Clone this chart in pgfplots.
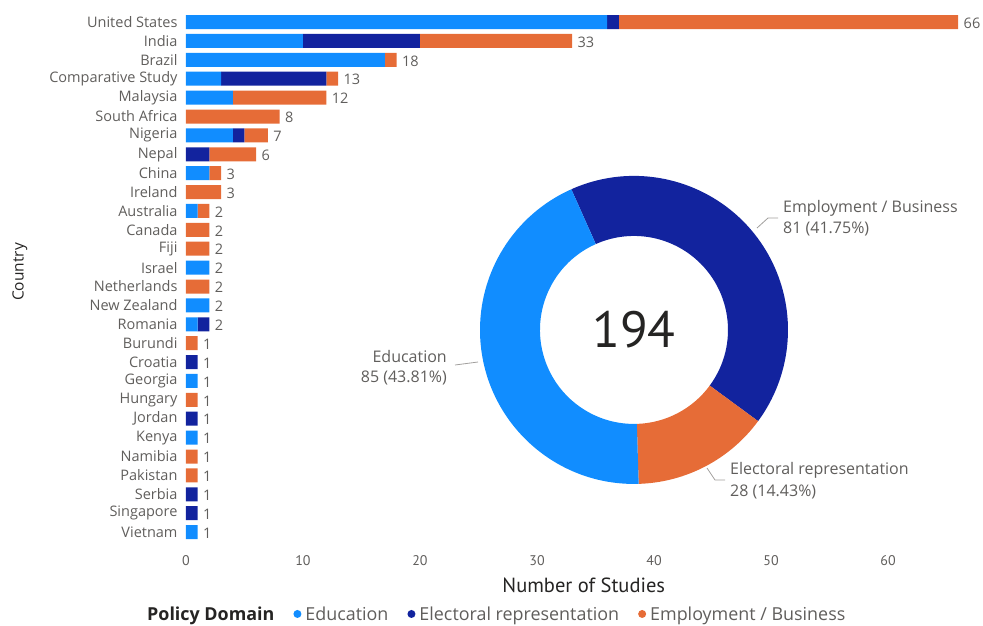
\documentclass[border=0pt]{standalone}
\usepackage{pgfplots}
\pgfplotsset{compat=1.18}
\usepackage{pgfplotstable}
\usepackage{fontspec}
\setmainfont{Open Sans}
\newfontfamily\din{PT Sans}
\definecolor{edu}{HTML}{118DFF}
\definecolor{ele}{HTML}{12239E}
\definecolor{emp}{HTML}{E66C37}
\definecolor{lab}{HTML}{605E5C}
\definecolor{ttl}{HTML}{252423}
\definecolor{lead}{HTML}{A19F9D}

\pgfplotstableread{
idx edu ele emp tot
0 36 1 29 66
1 10 10 13 33
2 17 0 1 18
3 3 9 1 13
4 4 0 8 12
5 0 0 8 8
6 4 1 2 7
7 0 2 4 6
8 2 0 1 3
9 0 0 3 3
10 1 0 1 2
11 0 0 2 2
12 0 0 2 2
13 2 0 0 2
14 0 0 2 2
15 2 0 0 2
16 1 1 0 2
17 0 0 1 1
18 0 1 0 1
19 1 0 0 1
20 0 0 1 1
21 0 1 0 1
22 1 0 0 1
23 0 0 1 1
24 0 0 1 1
25 0 1 0 1
26 0 1 0 1
27 1 0 0 1
}\countrydata

\pgfplotsset{frame/.style={
  at={(0pt,0pt)}, anchor=south west,
  scale only axis, width=795.6pt, height=528.9pt,
  xmin=0, xmax=68, ymin=-0.5, ymax=27.5, y dir=reverse, clip=false}}

\begin{document}
\begin{tikzpicture}
\useasboundingbox (-186pt,-83.5pt) rectangle (797pt,541.5pt);
\begin{axis}[
  frame,
  xbar stacked, bar width=14pt,
  ytick={0,...,27},
  yticklabels={United States,India,Brazil,Comparative Study,Malaysia,South Africa,Nigeria,Nepal,China,Ireland,Australia,Canada,Fiji,Israel,Netherlands,New Zealand,Romania,Burundi,Croatia,Georgia,Hungary,Jordan,Kenya,Namibia,Pakistan,Serbia,Singapore,Vietnam},
  xtick={0,10,...,60},
  axis line style={draw=none}, major tick length=0pt,
  /pgf/number format/assume math mode=true,
  yticklabel style={font=\fontsize{14.5}{14.5}\selectfont, color=lab, xshift=-5pt},
  xticklabel style={font=\din\fontsize{14}{14}\selectfont, color=lab, yshift=-10pt},
  xlabel={Number of Studies},
  xlabel style={at={(axis description cs:0.5,-0.0822)}, anchor=center, font=\din\fontsize{20.5}{20.5}\selectfont, color=ttl},
  ylabel={Country},
  ylabel style={at={(axis description cs:-0.2087,0.5096)}, anchor=center, font=\fontsize{15.5}{15.5}\selectfont, color=ttl},
  legend columns=-1,
  legend style={at={(axis description cs:0.39,-0.137)}, anchor=center, draw=none, fill=none,
    font=\fontsize{17.9}{17.9}\selectfont, text=lab,
    /tikz/every even column/.append style={column sep=17pt}},
]
\addlegendimage{empty legend}
\addlegendentry{\textcolor{ttl}{\textbf{Policy Domain}}}
\addplot[fill=edu, draw=none, legend image code/.code={\fill[edu] (0pt,0pt) circle (4pt); \path (6pt,0pt);}] table[x=edu, y=idx] {\countrydata};
\addlegendentry{Education}
\addplot[fill=ele, draw=none, legend image code/.code={\fill[ele] (0pt,0pt) circle (4pt); \path (6pt,0pt);}] table[x=ele, y=idx] {\countrydata};
\addlegendentry{Electoral representation}
\addplot[fill=emp, draw=none, legend image code/.code={\fill[emp] (0pt,0pt) circle (4pt); \path (6pt,0pt);}] table[x=emp, y=idx] {\countrydata};
\addlegendentry{Employment / Business}
\coordinate (dc) at (axis cs:38.29,16.3);
\end{axis}

% totals at bar ends
\begin{axis}[frame, hide axis]
\addplot[draw=none, mark=none, nodes near coords, point meta=explicit symbolic,
  nodes near coords style={font=\fontsize{14.5}{14.5}\selectfont, color=lab, anchor=west, xshift=2pt, yshift=-1pt}]
  table[x=tot, y=idx, meta=tot] {\countrydata};
\end{axis}

% donut: Employment / Business 81, Electoral representation 28, Education 85 (total 194)
\def\startang{114}
\foreach \v/\c in {81/ele,28/emp,85/edu}{
  \pgfmathsetmacro\endang{\startang-\v/194*360}
  \fill[\c] ([shift={(\startang:154pt)}]dc) arc[start angle=\startang, end angle=\endang, radius=154pt]
    -- ([shift={(\endang:94pt)}]dc) arc[start angle=\endang, end angle=\startang, radius=94pt] -- cycle;
  \xdef\startang{\endang}
}
\node[font=\din\fontsize{51}{51}\selectfont, text=ttl] at (dc) {194};

\draw[lead, line width=0.8pt] (571pt,313.5pt) -- (582pt,323.5pt) -- (592pt,323.5pt);
\draw[lead, line width=0.8pt] (269pt,176.5pt) -- (292pt,179.5pt);
\draw[lead, line width=0.8pt] (521pt,73.5pt) -- (529pt,61.5pt) -- (539pt,61.5pt);

\begin{scope}[every node/.style={font=\fontsize{16}{16}\selectfont, text=lab, inner sep=0pt}]
\node[anchor=west] at (597pt,333.5pt) {Employment / Business};
\node[anchor=west] at (597pt,312.5pt) {81 (41.75\%)};
\node[anchor=east] at (261pt,185.5pt) {Education};
\node[anchor=east] at (261pt,163.5pt) {85 (43.81\%)};
\node[anchor=west] at (544pt,71.5pt) {Electoral representation};
\node[anchor=west] at (544pt,49.5pt) {28 (14.43\%)};
\end{scope}
\end{tikzpicture}
\end{document}
